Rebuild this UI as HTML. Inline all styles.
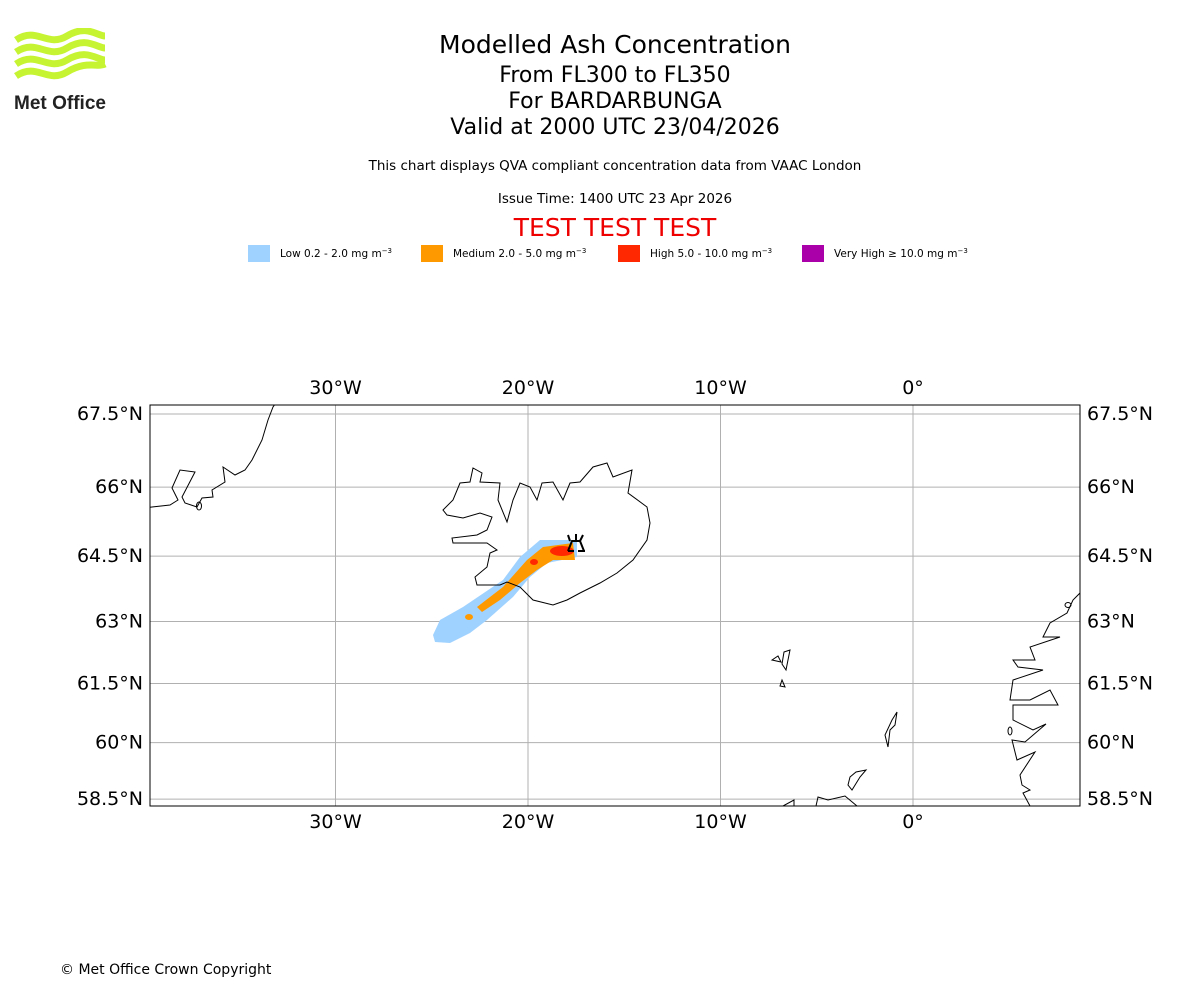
<!DOCTYPE html>
<html><head><meta charset="utf-8"><style>
body{margin:0;background:#fff;font-family:"DejaVu Sans","Liberation Sans",sans-serif}
#w{position:relative;width:1200px;height:1000px;overflow:hidden}
.t{position:absolute;left:0;width:1230px;text-align:center;color:#000}
</style></head><body><div id="w">
<svg style="position:absolute;left:12px;top:28px" width="100" height="85">
<g fill="none" stroke="#c6f432" stroke-width="7">
<path d="M4 12 C25 -2,35 20,55 8 S85 8,93 8"/><path d="M4 24 C25 10,35 32,55 20 S85 20,93 20"/><path d="M4 36 C25 22,35 44,55 32 S85 32,93 32"/><path d="M4 48 C25 34,35 56,55 44 S85 40,93 36"/></g>
<text x="2" y="81" font-family="Liberation Sans" font-weight="bold" font-size="19" fill="#222" textLength="92">Met Office</text></svg>
<div class="t" style="top:30px;font-size:25px">Modelled Ash Concentration</div>
<div class="t" style="top:63px;font-size:22px">From FL300 to FL350</div>
<div class="t" style="top:89px;font-size:22px">For BARDARBUNGA</div>
<div class="t" style="top:115px;font-size:22px">Valid at 2000 UTC 23/04/2026</div>
<div class="t" style="top:158px;font-size:13.5px">This chart displays QVA compliant concentration data from VAAC London</div>
<div class="t" style="top:191px;font-size:13.5px">Issue Time: 1400 UTC 23 Apr 2026</div>
<div class="t" style="top:213px;font-size:25px;color:#e00">TEST TEST TEST</div>
<svg id="legend" style="position:absolute;left:0;top:240px" width="1200" height="30" font-size="10.5">
<g><rect x="248" y="5" width="22" height="17" fill="#a0d2ff"/><text x="280" y="17">Low 0.2 - 2.0 mg m<tspan dy="-4" font-size="7">−3</tspan></text></g>
<g><rect x="421" y="5" width="22" height="17" fill="#ff9900"/><text x="453" y="17">Medium 2.0 - 5.0 mg m<tspan dy="-4" font-size="7">−3</tspan></text></g>
<g><rect x="618" y="5" width="22" height="17" fill="#ff2800"/><text x="650" y="17">High 5.0 - 10.0 mg m<tspan dy="-4" font-size="7">−3</tspan></text></g>
<g><rect x="802" y="5" width="22" height="17" fill="#aa00aa"/><text x="834" y="17">Very High  ≥  10.0 mg m<tspan dy="-4" font-size="7">−3</tspan></text></g>
</svg>
<svg id="map" style="position:absolute;left:0;top:0" width="1200" height="1000" font-size="19">
<defs><clipPath id="c"><rect x="150" y="405" width="930" height="401"/></clipPath></defs>
<g id="grid" clip-path="url(#c)"></g>
<g clip-path="url(#c)">
<path fill="#a0d2ff" d="M433 635 L440 620 463 607 503 580 520 557 540 540 577 540 577 557 547 563 530 577 513 597 487 620 470 633 450 643 435 642Z"/>
<path fill="#ff9900" d="M477 607 L503 587 527 560 543 547 573 543 575 560 553 560 537 570 520 583 500 600 482 612Z"/>
<ellipse fill="#ff9900" cx="469" cy="617" rx="4" ry="3"/>
<ellipse fill="#ff2800" cx="562" cy="551" rx="12" ry="5"/>
<ellipse fill="#ff2800" cx="534" cy="562" rx="4" ry="3"/>
</g>
<g clip-path="url(#c)" fill="none" stroke="#000" stroke-width="1">
<path d="M443 510 L453 500 460 483 470 482 473 468 482 473 480 482 500 483 498 500 507 522 513 500 520 483 530 487 537 500 542 483 553 482 563 500 570 483 580 482 593 467 607 463 613 477 632 470 628 493 647 507 650 523 647 540 633 560 617 573 600 583 580 593 567 600 553 605 533 600 520 587 507 582 500 585 477 585 475 577 487 567 490 553 497 550 487 543 453 543 452 538 477 535 487 530 492 517 480 513 463 518 447 515Z"/>
<path d="M278 400 L273 407 268 420 262 440 252 460 245 470 235 475 223 467 225 482 212 490 213 497 202 498 197 507 185 503 182 497 195 472 180 470 172 488 178 500 170 505 152 507 145 508"/>
<ellipse cx="199" cy="506" rx="2.5" ry="4"/>
<path d="M1085 588 L1073 600 1067 613 1050 623 1043 637 1060 637 1030 647 1035 660 1013 660 1018 667 1043 670 1013 680 1010 700 1030 700 1050 690 1058 705 1013 705 1013 720 1033 730 1046 724 1025 742 1012 740 1017 760 1035 752 1020 775 1022 785 1030 790 1023 793 1030 806"/>
<ellipse cx="1068" cy="605" rx="3" ry="2.5"/><ellipse cx="1010" cy="731" rx="2" ry="4"/>
<path d="M772 660 L778 656 781 662Z M784 652 L790 650 786 670 782 664Z M782 680 L785 687 780 686Z"/>
<path d="M897 712 L895 725 890 730 888 747 885 735 892 720Z"/>
<path d="M850 777 L856 772 866 770 860 777 852 790 848 785Z M783 806 L794 800 794 806 M816 806 L818 797 828 800 845 796 857 806"/>
</g>
<path fill="none" stroke="#000" stroke-width="2" d="M568 551 L572 541 580 541 584 551 M568 551 h6 M578 551 h7 M570 541 l-2 -6 M576 541 v-7 M580 541 l3 -6"/>
<rect x="150" y="405" width="930" height="401" fill="none" stroke="#000"/>
<g id="labels"></g>
</svg>
<div style="position:absolute;left:60px;top:962px;font-size:14px">© Met Office Crown Copyright</div>
</div>
<script>
const lonTicks=[-30,-20,-10,0];
const lonLabels=["30°W","20°W","10°W","0°"];
const latTicks=[58.5,60,61.5,63,64.5,66,67.5];
const latLabels=["58.5°N","60°N","61.5°N","63°N","64.5°N","66°N","67.5°N"];
const NS="http://www.w3.org/2000/svg";
function xOf(lon){return 913+lon*19.25;}
function merc(l){return Math.log(Math.tan(Math.PI/4+l*Math.PI/360));}
function yOf(lat){return 414-1103*(merc(lat)-merc(67.5));}
const g=document.getElementById('grid'),L=document.getElementById('labels');
function mk(p,tag,a,txt){const e=document.createElementNS(NS,tag);for(const k in a)e.setAttribute(k,a[k]);if(txt)e.textContent=txt;p.appendChild(e);return e;}
lonTicks.forEach((v,i)=>{const x=xOf(v);
const l=mk(g,'line',{x1:x,x2:x,y1:405,y2:806,stroke:'#b0b0b0'});


const t1=mk(L,'text',{x:x,y:394,'text-anchor':'middle'},lonLabels[i]);


const t2=mk(L,'text',{x:x,y:828,'text-anchor':'middle'},lonLabels[i]);

});
latTicks.forEach((v,i)=>{const y=yOf(v);
const l=mk(g,'line',{x1:150,x2:1080,y1:y,y2:y,stroke:'#b0b0b0'});


const t1=mk(L,'text',{x:143,y:y+6,'text-anchor':'end'},latLabels[i]);


const t2=mk(L,'text',{x:1087,y:y+6},latLabels[i]);

});
</script>
</body></html>
